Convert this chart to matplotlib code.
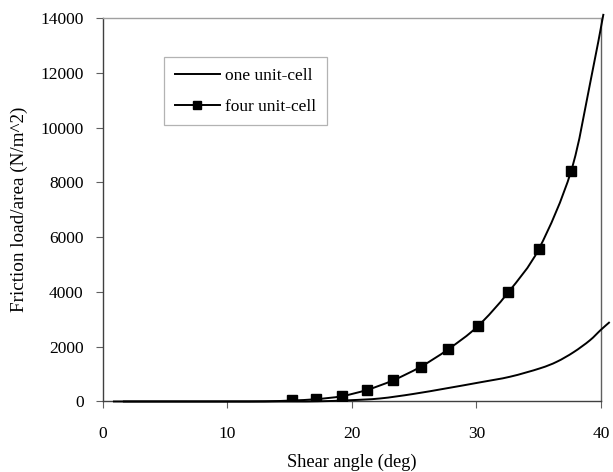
import matplotlib
matplotlib.use("Agg")
import matplotlib.pyplot as plt
from matplotlib.path import Path
from matplotlib.patches import PathPatch

# One unit-cell friction load per area vs shear angle
one_x = [0.8, 5, 10, 15, 17.2, 19.8, 22.25, 24.9, 27.6, 30.3, 32.7, 35.1, 36.45, 37.8, 39.1, 40.0, 40.7]
one_y = [0, 0, 0, 0, 5, 45, 110, 273, 481, 700, 904, 1210, 1450, 1800, 2230, 2620, 2900]

# Four unit-cell curve
four_x = [1.6, 5, 10, 13, 15.16, 17.11, 19.17, 21.23, 23.32, 25.52, 27.73, 30.10,
          32.55, 35.02, 37.59, 39.12, 40.2]
four_y = [0, 0, 0, 5, 36, 84, 193, 427, 777, 1269, 1907, 2745,
          3985, 5578, 8396, 11601, 14150]

# Computed points shown with markers
mark_x = [15.16, 17.11, 19.17, 21.23, 23.32, 25.52, 27.73, 30.10, 32.55, 35.02, 37.59]
mark_y = [36, 84, 193, 427, 777, 1269, 1907, 2745, 3985, 5578, 8396]

x_ticks = [0, 10, 20, 30, 40]
y_ticks = [0, 2000, 4000, 6000, 8000, 10000, 12000, 14000]


def smooth_path(xs, ys, tension=6.0):
    """Smoothed line through the points using cubic Bezier segments."""
    pts = list(zip(xs, ys))
    n = len(pts)
    verts = [pts[0]]
    codes = [Path.MOVETO]
    for i in range(n - 1):
        p0 = pts[i - 1] if i > 0 else pts[i]
        p1 = pts[i]
        p2 = pts[i + 1]
        p3 = pts[i + 2] if i + 2 < n else pts[i + 1]
        c1 = (p1[0] + (p2[0] - p0[0]) / tension, p1[1] + (p2[1] - p0[1]) / tension)
        c2 = (p2[0] - (p3[0] - p1[0]) / tension, p2[1] - (p3[1] - p1[1]) / tension)
        verts += [c1, c2, p2]
        codes += [Path.CURVE4] * 3
    return Path(verts, codes)


plt.rcParams['font.family'] = ['Liberation Serif', 'DejaVu Serif']

fig = plt.figure(figsize=(6.13, 4.72), dpi=100)
ax = fig.add_axes([0.168, 0.1494, 0.8124, 0.8125])

for xs, ys in ((one_x, one_y), (four_x, four_y)):
    ax.add_patch(PathPatch(smooth_path(xs, ys), facecolor='none', edgecolor='black',
                           lw=1.4, clip_on=False, zorder=3))
ax.plot(mark_x, mark_y, ls='none', marker='s', ms=7.5, color='black', zorder=4)

# legend entries
h1, = ax.plot([], [], color='black', lw=1.4, label='one unit-cell')
h2, = ax.plot([], [], color='black', lw=1.4, marker='s', ms=6, label='four unit-cell')
leg = ax.legend(handles=[h1, h2], loc='upper left', bbox_to_anchor=(0.1235, 0.897),
                fontsize=12.5, frameon=True, fancybox=False, handlelength=2.6,
                handletextpad=0.3, labelspacing=0.85, borderpad=0.6, borderaxespad=0)
leg.get_frame().set_edgecolor('#a0a0a0')
leg.get_frame().set_linewidth(0.9)

ax.set_xlim(0, 40)
ax.set_ylim(0, 14000)
ax.set_xticks(x_ticks)
ax.set_yticks(y_ticks)
ax.tick_params(axis='x', direction='out', length=5, width=0.8, color='#606060',
               labelsize=12.5, pad=13)
ax.tick_params(axis='y', direction='out', length=5, width=0.8, color='#606060',
               labelsize=12.5, pad=9)

ax.spines['left'].set_color('#404040')
ax.spines['bottom'].set_color('#404040')
ax.spines['top'].set_color('#a0a0a0')
ax.spines['right'].set_color('#606060')
for s in ax.spines.values():
    s.set_linewidth(1.0)

ax.set_xlabel('Shear angle (deg)', fontsize=13.2, labelpad=8)
ax.set_ylabel('Friction load/area (N/m^2)', fontsize=13.8, labelpad=9)

fig.savefig('out.png', dpi=100)
